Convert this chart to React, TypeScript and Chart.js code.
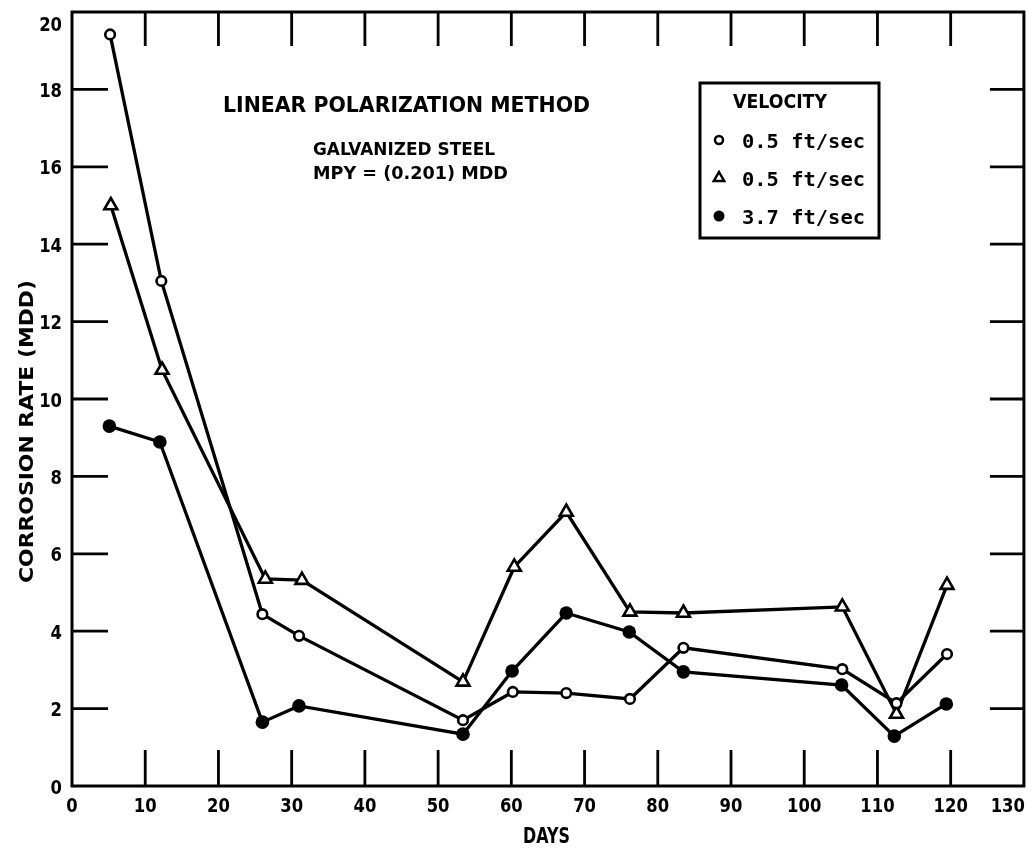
import React, { useEffect, useRef } from 'react';
import { Chart, registerables } from 'chart.js';

Chart.register(...registerables);

// ---- Data ----
const seriesNames = ['0.5 ft/sec', '0.5 ft/sec', '3.7 ft/sec'];
const legendTitle = 'VELOCITY';
const chartTitle = 'LINEAR POLARIZATION METHOD';
const noteLines = ['GALVANIZED STEEL', 'MPY = (0.201) MDD'];
const xAxisTitle = 'DAYS';
const yAxisTitle = 'CORROSION RATE (MDD)';

const daysOpenCircle = [5.2, 12.2, 26.0, 31.0, 53.4, 60.2, 67.5, 76.2, 83.5, 105.2, 112.6, 119.5];
const rateOpenCircle = [19.42, 13.05, 4.44, 3.88, 1.7, 2.43, 2.4, 2.25, 3.57, 3.02, 2.14, 3.41];

const daysTriangle = [5.3, 12.3, 26.4, 31.4, 53.4, 60.4, 67.5, 76.2, 83.5, 105.2, 112.6, 119.5];
const rateTriangle = [15.0, 10.75, 5.35, 5.32, 2.69, 5.66, 7.08, 4.5, 4.47, 4.63, 1.86, 5.19];

const daysFilled = [5.1, 12.0, 26.0, 31.0, 53.4, 60.1, 67.5, 76.1, 83.5, 105.1, 112.3, 119.4];
const rateFilled = [9.3, 8.89, 1.65, 2.07, 1.34, 2.97, 4.47, 3.98, 2.95, 2.61, 1.29, 2.12];

const xTickValues = [0, 10, 20, 30, 40, 50, 60, 70, 80, 90, 100, 110, 120, 130];
const xTickLabels = ['0', '10', '20', '30', '40', '50', '60', '70', '80', '90', '100', '110', '120', '130'];
const yTickValues = [0, 2, 4, 6, 8, 10, 12, 14, 16, 18, 20];
const yTickLabels = ['0', '2', '4', '6', '8', '10', '12', '14', '16', '18', '20'];

const FAMILY = '"DejaVu Sans", "Liberation Sans", sans-serif';
const MONO = '"DejaVu Sans Mono", "Liberation Mono", monospace';

function drawScaled(ctx: CanvasRenderingContext2D, text: string, x: number, y: number, size: number, sx: number, align: CanvasTextAlign, family = FAMILY) {
  ctx.save();
  ctx.font = `bold ${size}px ${family}`;
  ctx.textAlign = align;
  ctx.textBaseline = 'alphabetic';
  ctx.translate(x, y);
  ctx.scale(sx, 1);
  ctx.fillText(text, 0, 0);
  ctx.restore();
}

function drawFit(ctx: CanvasRenderingContext2D, text: string, left: number, baseline: number, width: number, size: number, family = FAMILY, rotate = false) {
  ctx.save();
  ctx.font = `bold ${size}px ${family}`;
  const w = ctx.measureText(text).width;
  const sx = width / w;
  ctx.textAlign = 'left';
  ctx.textBaseline = 'alphabetic';
  ctx.translate(left, baseline);
  if (rotate) ctx.rotate(-Math.PI / 2);
  ctx.scale(sx, 1);
  ctx.fillText(text, 0, 0);
  ctx.restore();
}

function marker(ctx: CanvasRenderingContext2D, kind: string, x: number, y: number) {
  ctx.save();
  ctx.strokeStyle = '#000';
  ctx.fillStyle = '#000';
  ctx.lineWidth = 2.5;
  ctx.beginPath();
  if (kind === 'open') {
    ctx.arc(x, y, 4, 0, Math.PI * 2);
    ctx.fillStyle = '#fff';
    ctx.fill();
    ctx.stroke();
  } else if (kind === 'tri') {
    const r = 6;
    ctx.moveTo(x, y - r);
    ctx.lineTo(x + r * 0.866, y + r * 0.5);
    ctx.lineTo(x - r * 0.866, y + r * 0.5);
    ctx.closePath();
    ctx.fillStyle = '#fff';
    ctx.fill();
    ctx.stroke();
  } else {
    ctx.arc(x, y, 5.5, 0, Math.PI * 2);
    ctx.fill();
  }
  ctx.restore();
}

const decorPlugin = {
  id: 'decor',
  beforeDatasetsDraw(chart: any) {
    const { ctx, chartArea } = chart;
    const { left, right, top, bottom } = chartArea;
    const xs = chart.scales.x;
    const ys = chart.scales.y;
    ctx.save();
    ctx.strokeStyle = '#000';
    ctx.lineWidth = 3;
    ctx.lineCap = 'butt';
    ctx.strokeRect(left, top, right - left, bottom - top);
    const TL = 36;
    ctx.lineWidth = 2.8;
    ctx.beginPath();
    xTickValues.forEach((v, i) => {
      if (i === 0 || i === xTickValues.length - 1) return;
      const px = xs.getPixelForValue(v);
      ctx.moveTo(px, bottom);
      ctx.lineTo(px, bottom - TL);
      ctx.moveTo(px, top);
      ctx.lineTo(px, top + TL - 2);
    });
    yTickValues.forEach((v, i) => {
      if (i === 0 || i === yTickValues.length - 1) return;
      const py = ys.getPixelForValue(v);
      ctx.moveTo(left, py);
      ctx.lineTo(left + TL, py);
      ctx.moveTo(right, py);
      ctx.lineTo(right - TL + 2, py);
    });
    ctx.stroke();
    ctx.restore();
  },
  afterDraw(chart: any) {
    const { ctx, chartArea } = chart;
    const { left, right, top, bottom } = chartArea;
    const xs = chart.scales.x;
    const ys = chart.scales.y;
    ctx.save();
    ctx.fillStyle = '#000';
    // tick labels
    const tsize = 20;
    const tsx = 0.82;
    ctx.font = `bold ${tsize}px ${FAMILY}`;
    xTickValues.forEach((v, i) => {
      const label = xTickLabels[i];
      const px = xs.getPixelForValue(v);
      const w = ctx.measureText(label).width * tsx;
      let cx = px;
      if (cx + w / 2 > right + 1) cx = right + 1 - w / 2;
      drawScaled(ctx, label, cx, bottom + 26, tsize, tsx, 'center');
    });
    yTickValues.forEach((v, i) => {
      const label = yTickLabels[i];
      let py = ys.getPixelForValue(v);
      if (py < top + 11) py = top + 11;
      drawScaled(ctx, label, left - 10, py + 7.5, tsize, tsx, 'right');
    });
    // axis titles
    drawFit(ctx, xAxisTitle, 523, 843, 47, 22);
    drawFit(ctx, yAxisTitle, 33, 583, 303, 19, FAMILY, true);
    // chart title and notes
    drawFit(ctx, chartTitle, 223, 112, 367, 22);
    drawFit(ctx, noteLines[0], 313, 155, 182, 18);
    drawFit(ctx, noteLines[1], 313, 179, 195, 18);
    // legend box
    ctx.strokeStyle = '#000';
    ctx.lineWidth = 3;
    ctx.strokeRect(700, 83, 179, 155);
    drawFit(ctx, legendTitle, 733, 108, 94, 20);
    const kinds = ['open', 'tri', 'filled'];
    const rowY = [140, 178, 216];
    kinds.forEach((k, i) => {
      marker(ctx, k, 719, rowY[i]);
      drawFit(ctx, seriesNames[i], 742, rowY[i] + 7.5, 123, 20, MONO);
    });
    ctx.restore();
  },
};

export default function App() {
  const canvasRef = useRef<HTMLCanvasElement | null>(null);
  useEffect(() => {
    const canvas = canvasRef.current;
    if (!canvas) return;
    const toPts = (xs: number[], ys: number[]) => xs.map((x, i) => ({ x, y: ys[i] }));
    const common = {
      borderColor: '#000',
      borderWidth: 3.3,
      tension: 0,
      fill: false,
      pointBorderColor: '#000',
    };
    const chart = new Chart(canvas, {
      type: 'line',
      data: {
        datasets: [
          {
            ...common,
            label: seriesNames[0],
            data: toPts(daysOpenCircle, rateOpenCircle),
            pointStyle: 'circle',
            pointRadius: 4.8,
            pointBorderWidth: 2.6,
            pointBackgroundColor: '#fff',
          },
          {
            ...common,
            label: seriesNames[1],
            data: toPts(daysTriangle, rateTriangle),
            pointStyle: 'triangle',
            pointRadius: 7.5,
            pointBorderWidth: 2.6,
            pointBackgroundColor: '#fff',
          },
          {
            ...common,
            label: seriesNames[2],
            data: toPts(daysFilled, rateFilled),
            pointStyle: 'circle',
            pointRadius: 6.8,
            pointBorderWidth: 0,
            pointBackgroundColor: '#000',
          },
        ],
      },
      options: {
        responsive: false,
        animation: false,
        events: [],
        layout: { padding: { top: 12, right: 8, left: 0, bottom: 0 } },
        plugins: { legend: { display: false }, tooltip: { enabled: false } },
        scales: {
          x: {
            type: 'linear',
            min: 0,
            max: 130,
            grid: { display: false, drawTicks: false },
            border: { display: false },
            ticks: { display: false, stepSize: 10 },
            afterFit: (s: any) => {
              s.height = 63;
              s.paddingLeft = 0;
              s.paddingRight = 0;
            },
          },
          y: {
            type: 'linear',
            min: 0,
            max: 20,
            grid: { display: false, drawTicks: false },
            border: { display: false },
            ticks: { display: false, stepSize: 2 },
            afterFit: (s: any) => {
              s.width = 72;
              s.paddingTop = 0;
              s.paddingBottom = 0;
            },
          },
        },
      } as any,
      plugins: [decorPlugin],
    });
    return () => chart.destroy();
  }, []);
  return (
    <div style={{ position: 'absolute', left: 0, top: 0, width: 1034, height: 849, background: '#fff' }}>
      <canvas ref={canvasRef} width={1034} height={849} style={{ display: 'block' }} />
    </div>
  );
}
